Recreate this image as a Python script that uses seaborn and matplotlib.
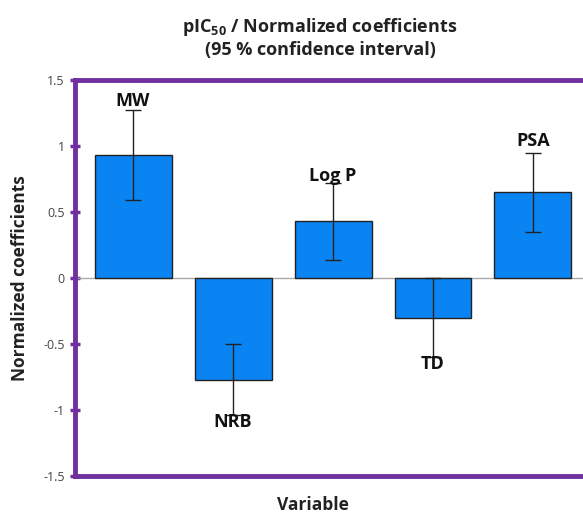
import matplotlib
matplotlib.use("Agg")
import matplotlib.pyplot as plt
import seaborn as sns
import pandas as pd

variables = ["MW", "NRB", "Log P", "TD", "PSA"]
coefficients = [0.93, -0.77, 0.43, -0.30, 0.65]
ci_half = [0.34, 0.27, 0.29, 0.30, 0.30]
label_y = [1.34, -1.09, 0.77, -0.65, 1.04]
yticks = [-1.5, -1, -0.5, 0, 0.5, 1, 1.5]
ytick_labels = ["-1.5", "-1", "-0.5", "0", "0.5", "1", "1.5"]

sns.set_theme(style="white")
plt.rcParams["font.family"] = ["Open Sans", "DejaVu Sans"]

purple = "#7030A0"
blue = "#0A84F2"

fig = plt.figure(figsize=(5.83, 5.14), dpi=100)
ax = fig.add_axes([75 / 583, 38 / 514, 516 / 583, 396 / 514])

df = pd.DataFrame({"Variable": variables, "Coef": coefficients})
sns.barplot(data=df, x="Variable", y="Coef", ax=ax, color=blue, saturation=1,
            width=0.77, edgecolor="#222222", linewidth=1.0, errorbar=None, zorder=2)

xs = [p.get_x() + p.get_width() / 2 for p in ax.patches]
ax.errorbar(xs, coefficients, yerr=ci_half, fmt="none", ecolor="#222222",
            elinewidth=1.0, capsize=5.5, capthick=1.0, zorder=3)

for x, y, lab in zip(xs, label_y, variables):
    ax.text(x, y, lab, ha="center", va="center", fontsize=13,
            fontweight="bold", color="#111111", zorder=4)

ax.axhline(0, color="#aaaaaa", lw=1.0, zorder=1)
ax.set_xlim(-0.58, 4.58)
ax.set_ylim(-1.5, 1.5)
ax.set_yticks(yticks)
ax.set_yticklabels(ytick_labels)
ax.set_xticks([])
ax.set_xlabel("")
ax.set_ylabel("")
ax.tick_params(axis="y", direction="inout", length=7, width=2.5, color=purple,
               labelsize=9, labelcolor="#444444", left=True, pad=4)
for side in ["left", "top", "bottom", "right"]:
    ax.spines[side].set_color(purple)
    ax.spines[side].set_linewidth(3.5)

fig.text(320 / 583, 1 - 27 / 514, "pIC$_{\\mathregular{50}}$ / Normalized coefficients",
         ha="center", va="center", fontsize=13, fontweight="bold", color="#222222")
fig.text(320 / 583, 1 - 50 / 514, "(95 % confidence interval)",
         ha="center", va="center", fontsize=13, fontweight="bold", color="#222222")
fig.text(20 / 583, 1 - 278 / 514, "Normalized coefficients", rotation=90,
         ha="center", va="center", fontsize=12.5, fontweight="bold", color="#222222")
fig.text(313 / 583, 1 - 505 / 514, "Variable", ha="center", va="center",
         fontsize=12.5, fontweight="bold", color="#222222")

fig.savefig("out.png", dpi=100)
